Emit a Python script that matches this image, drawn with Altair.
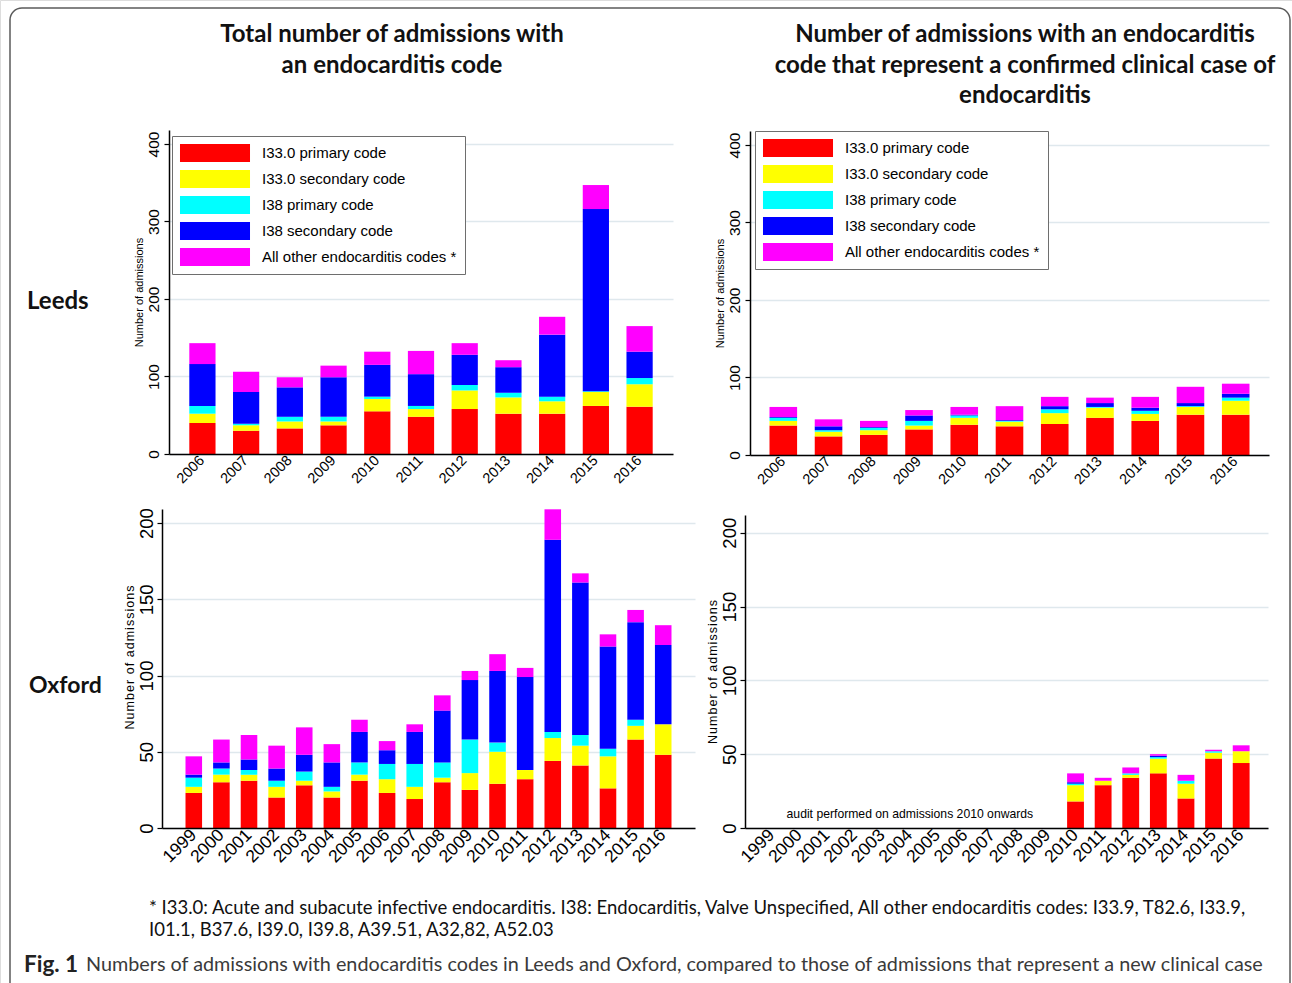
import altair as alt
import pandas as pd

# ---------------------------------------------------------------- data
SERIES = [
    "I33.0 primary code",
    "I33.0 secondary code",
    "I38 primary code",
    "I38 secondary code",
    "All other endocarditis codes *",
]
SERIES_COLORS = ["#ff0000", "#ffff00", "#00ffff", "#0000ff", "#ff00ff"]

LEEDS_YEARS = ["2006", "2007", "2008", "2009", "2010", "2011",
               "2012", "2013", "2014", "2015", "2016"]
OXFORD_YEARS = ["1999", "2000", "2001", "2002", "2003", "2004", "2005", "2006", "2007",
                "2008", "2009", "2010", "2011", "2012", "2013", "2014", "2015", "2016"]
OXFORD_AUDIT_YEARS = ["2010", "2011", "2012", "2013", "2014", "2015", "2016"]

# Leeds: every admission carrying an endocarditis code
LEEDS_ALL_I33_PRIMARY = [40, 30, 33, 37, 55, 48, 58, 52, 52, 62, 61]
LEEDS_ALL_I33_SECONDARY = [12, 7, 9, 5, 16, 10, 24, 21, 16, 18, 29]
LEEDS_ALL_I38_PRIMARY = [10, 2, 6, 6, 3, 4, 7, 6, 6, 1, 8]
LEEDS_ALL_I38_SECONDARY = [54, 41, 38, 51, 41, 41, 39, 33, 80, 235, 34]
LEEDS_ALL_OTHER = [27, 26, 13, 15, 17, 30, 15, 9, 23, 31, 33]

# Leeds: admissions confirmed as a clinical case
LEEDS_CASE_I33_PRIMARY = [38, 24, 26, 33, 39, 37, 40, 48, 44, 52, 52]
LEEDS_CASE_I33_SECONDARY = [6, 6, 6, 5, 9, 6, 14, 13, 9, 10, 18]
LEEDS_CASE_I38_PRIMARY = [4, 2, 3, 6, 3, 1, 5, 1, 4, 1, 4]
LEEDS_CASE_I38_SECONDARY = [1, 5, 1, 7, 1, 1, 4, 5, 4, 4, 5]
LEEDS_CASE_OTHER = [13, 9, 8, 7, 10, 18, 12, 7, 14, 21, 13]

# Oxford: every admission carrying an endocarditis code
OXFORD_ALL_I33_PRIMARY = [23, 30, 31, 20, 28, 20, 31, 23, 19, 30, 25, 29, 32, 44, 41, 26, 58, 48]
OXFORD_ALL_I33_SECONDARY = [4, 5, 4, 7, 3, 4, 4, 9, 8, 3, 11, 21, 6, 15, 13, 21, 9, 20]
OXFORD_ALL_I38_PRIMARY = [6, 4, 3, 4, 6, 3, 8, 10, 15, 10, 22, 6, 0, 4, 7, 5, 4, 0]
OXFORD_ALL_I38_SECONDARY = [2, 4, 7, 8, 11, 16, 20, 9, 21, 34, 39, 47, 61, 126, 100, 67, 64, 52]
OXFORD_ALL_OTHER = [12, 15, 16, 15, 18, 12, 8, 6, 5, 10, 6, 11, 6, 20, 6, 8, 8, 13]

# Oxford: admissions confirmed as a clinical case (audit from 2010)
OXFORD_CASE_I33_PRIMARY = [18, 29, 34, 37, 20, 47, 44]
OXFORD_CASE_I33_SECONDARY = [11, 3, 2, 10, 10, 4, 8]
OXFORD_CASE_I38_PRIMARY = [1, 0, 1, 1, 2, 1, 0]
OXFORD_CASE_I38_SECONDARY = [1, 0, 0, 1, 0, 0, 0]
OXFORD_CASE_OTHER = [6, 2, 4, 1, 4, 1, 4]

AUDIT_NOTE = "audit performed on admissions 2010 onwards"

TITLE_LEFT = ["Total number of admissions with", "an endocarditis code"]
TITLE_RIGHT = ["Number of admissions with an endocarditis",
               "code that represent a confirmed clinical case of",
               "endocarditis"]
FOOTNOTE = [
    "* I33.0: Acute and subacute infective endocarditis. I38: Endocarditis, Valve Unspecified, "
    "All other endocarditis codes: I33.9, T82.6, I33.9,",
    "I01.1, B37.6, I39.0, I39.8, A39.51, A32,82, A52.03",
]
CAPTION_LEAD = "Fig. 1"
CAPTION_TEXT = ("Numbers of admissions with endocarditis codes in Leeds and Oxford, "
                "compared to those of admissions that represent a new clinical case")

# ---------------------------------------------------------------- styling / page geometry
AXIS_FONT = "Liberation Sans"
TEXT_FONT = "Lato"
GRID = "#dfe8ed"
FRAME = "#5a5a5a"
W, H = 1292, 983

# plot boxes on the page: (left, right, top, bottom)
BOX_LEEDS_ALL = (169, 673, 130, 454)
BOX_LEEDS_CASE = (750, 1269, 131, 455)
BOX_OXFORD_ALL = (162, 695, 509, 828)
BOX_OXFORD_CASE = (745, 1268, 515, 828)


def long_table(years, columns):
    rows = []
    for i, year in enumerate(years):
        for k, (name, col) in enumerate(zip(SERIES, columns)):
            rows.append({"year": year, "series": name, "rank": k, "count": col[i]})
    return pd.DataFrame(rows)


def outer_pad(width, offset, n, inner):
    return offset * (n - inner) / (width - 2 * offset)


def bar_panel(frame, years, y_max, y_ticks, box, offset, inner,
              tick_size, x_size, y_title, title_size, title_pad, label_pad,
              legend=None, title_y=None):
    left, right, top, bottom = box
    x_axis = alt.Axis(orient="bottom", offset=bottom - H, title=None, labelAngle=315,
                      labelAlign="right", labelBaseline="middle",
                      labelFont=AXIS_FONT, labelFontSize=x_size, labelColor="black",
                      labelPadding=4, labelOverlap=False, ticks=False, grid=False,
                      domainColor="black", domainWidth=1.5, zindex=1)
    y_opts = dict(orient="left", offset=-left, values=y_ticks, title=y_title,
                  titleFont=AXIS_FONT, titleFontSize=title_size, titleFontWeight="normal",
                  titleColor="black", titlePadding=title_pad, labelAngle=270,
                  labelAlign="center", labelBaseline="bottom", labelFont=AXIS_FONT,
                  labelFontSize=tick_size, labelColor="black", labelPadding=label_pad,
                  labelFlush=False, labelOverlap=False, tickSize=5, tickColor="black",
                  tickWidth=1.2, domainColor="black", domainWidth=1.5, grid=True,
                  gridColor=GRID, gridWidth=1.6)
    if title_y is not None:
        y_opts["titleY"] = title_y
    return alt.Chart(frame).mark_bar().encode(
        x=alt.X("year:N", sort=years,
                scale=alt.Scale(domain=years, range=[left, right], paddingInner=inner,
                                paddingOuter=outer_pad(right - left, offset, len(years), inner)),
                axis=x_axis),
        y=alt.Y("count:Q", stack="zero",
                scale=alt.Scale(domain=[0, y_max], range=[bottom, top], nice=False),
                axis=alt.Axis(**y_opts)),
        color=alt.Color("series:N", scale=alt.Scale(domain=SERIES, range=SERIES_COLORS),
                        legend=legend),
        order=alt.Order("rank:Q", sort="ascending"),
    )


def series_legend(x, y):
    # 70 x 18 swatches: the layout sees an 18 px square, the path is stretched sideways
    return alt.Legend(title=None, orient="none", legendX=x, legendY=y,
                      symbolType="M-3.89,-1H3.89V1H-3.89Z", symbolSize=324,
                      symbolOffset=26, symbolStrokeWidth=0, symbolOpacity=1,
                      labelFont=AXIS_FONT, labelFontSize=15, labelColor="black",
                      labelLimit=400, labelOffset=38, rowPadding=8, padding=8,
                      fillColor="white", strokeColor="#6e6e6e")


leeds_all = long_table(LEEDS_YEARS, [LEEDS_ALL_I33_PRIMARY, LEEDS_ALL_I33_SECONDARY,
                                     LEEDS_ALL_I38_PRIMARY, LEEDS_ALL_I38_SECONDARY,
                                     LEEDS_ALL_OTHER])
leeds_case = long_table(LEEDS_YEARS, [LEEDS_CASE_I33_PRIMARY, LEEDS_CASE_I33_SECONDARY,
                                      LEEDS_CASE_I38_PRIMARY, LEEDS_CASE_I38_SECONDARY,
                                      LEEDS_CASE_OTHER])
oxford_all = long_table(OXFORD_YEARS, [OXFORD_ALL_I33_PRIMARY, OXFORD_ALL_I33_SECONDARY,
                                       OXFORD_ALL_I38_PRIMARY, OXFORD_ALL_I38_SECONDARY,
                                       OXFORD_ALL_OTHER])
oxford_case = long_table(OXFORD_AUDIT_YEARS, [OXFORD_CASE_I33_PRIMARY, OXFORD_CASE_I33_SECONDARY,
                                              OXFORD_CASE_I38_PRIMARY, OXFORD_CASE_I38_SECONDARY,
                                              OXFORD_CASE_OTHER])

TOP_TICKS = [0, 100, 200, 300, 400]
BOTTOM_TICKS = [0, 50, 100, 150, 200]
SPACED_TITLE = "\u200a".join("Number of admissions")

leeds_left = bar_panel(leeds_all, LEEDS_YEARS, 418, TOP_TICKS, BOX_LEEDS_ALL, 20.3, 0.4,
                       15.5, 14.5, "Number of admissions", 11, 2, 3,
                       legend=series_legend(172, 136))
leeds_right = bar_panel(leeds_case, LEEDS_YEARS, 418, TOP_TICKS, BOX_LEEDS_CASE, 19.5, 0.39,
                        15.5, 14.5, "Number of admissions", 11, 2, 3,
                        legend=series_legend(755, 131))
oxford_left = bar_panel(oxford_all, OXFORD_YEARS, 209.2, BOTTOM_TICKS, BOX_OXFORD_ALL, 23.5, 0.4,
                        18.5, 17.5, SPACED_TITLE, 12.5, 1, 1, title_y=657)
oxford_right_bars = bar_panel(oxford_case, OXFORD_YEARS, 212, BOTTOM_TICKS, BOX_OXFORD_CASE, 18.4, 0.39,
                              18.5, 17.5, SPACED_TITLE, 12.5, 1, 1)
audit_note = alt.Chart(pd.DataFrame({"year": ["2004"], "count": [9.7], "note": [AUDIT_NOTE]})).mark_text(
    font=AXIS_FONT, fontSize=12.2, color="black", align="center", baseline="middle"
).encode(x=alt.X("year:N", sort=OXFORD_YEARS), y="count:Q", text="note:N")
oxford_right = alt.layer(oxford_right_bars, audit_note)

# ---------------------------------------------------------------- page furniture
page = alt.Chart(pd.DataFrame({"k": [0]}))


def text_at(text, x, y, size, weight="normal", align="left", color="#111111", font=TEXT_FONT):
    return page.mark_text(align=align, baseline="middle", font=font, fontSize=size,
                          fontWeight=weight, color=color).encode(
        x=alt.value(x), y=alt.value(y), text=alt.value(text))


furniture = [
    page.mark_rule(color=FRAME, strokeWidth=1.5).encode(x=alt.value(10), y=alt.value(20), y2=alt.value(H)),
    page.mark_rule(color=FRAME, strokeWidth=1.5).encode(x=alt.value(1290), y=alt.value(20), y2=alt.value(H)),
    page.mark_rule(color=FRAME, strokeWidth=1.5).encode(x=alt.value(22), x2=alt.value(1278), y=alt.value(8)),
    page.mark_arc(x=22, y=20, radius=12.75, radius2=11.25,
                  theta=4.712389, theta2=6.283185).encode(fill=alt.value(FRAME)),
    page.mark_arc(x=1278, y=20, radius=12.75, radius2=11.25,
                  theta=0, theta2=1.570796).encode(fill=alt.value(FRAME)),
]
for i, line in enumerate(TITLE_LEFT):
    furniture.append(text_at(line, 392, 35 + 30.5 * i, 24, "bold", "center"))
for i, line in enumerate(TITLE_RIGHT):
    furniture.append(text_at(line, 1025, 35 + 30.5 * i, 24, "bold", "center"))
furniture.append(text_at("Leeds", 27, 302, 24, "bold"))
furniture.append(text_at("Oxford", 29, 686, 23, "bold"))
for i, line in enumerate(FOOTNOTE):
    furniture.append(text_at(line, 149, 908 + 22 * i, 18.5))
furniture.append(text_at(CAPTION_LEAD, 24, 965, 22.5, "bold", color="#222222"))
furniture.append(text_at(CAPTION_TEXT, 86, 965, 19.8, color="#3a3a3a"))

chart = alt.layer(leeds_left, leeds_right, oxford_left, oxford_right, *furniture) \
    .resolve_scale(x="independent", y="independent", color="independent") \
    .resolve_axis(x="independent", y="independent") \
    .resolve_legend(color="independent") \
    .properties(width=W, height=H, autosize="none", padding=0, background="white") \
    .configure_view(stroke="transparent") \
    .configure(font=AXIS_FONT)

chart.save("out.html", embed_options={"renderer": "svg", "actions": False})
